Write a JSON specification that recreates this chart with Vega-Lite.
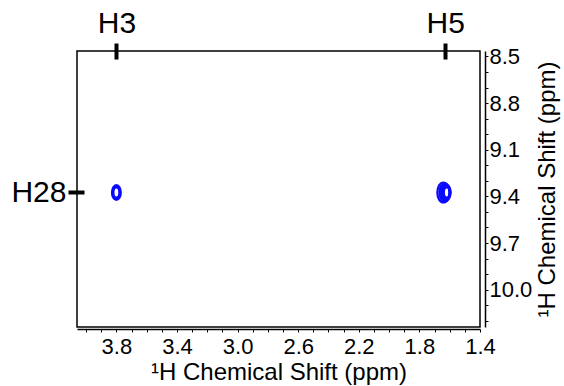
{
  "$schema": "https://vega.github.io/schema/vega-lite/v6.json",
  "autosize": {"type": "none"},
  "padding": {"left": 77, "top": 51, "right": 84, "bottom": 59},
  "width": 403,
  "height": 276,
  "config": {
    "font": "Liberation Sans",
    "view": {"stroke": "black", "strokeWidth": 1.5},
    "axis": {
      "labelFont": "Liberation Sans",
      "titleFont": "Liberation Sans",
      "labelColor": "black",
      "titleColor": "black",
      "domainColor": "black",
      "tickColor": "black",
      "grid": false,
      "titleFontWeight": "normal",
      "labelOverlap": false,
      "labelBound": false,
      "labelFlush": false
    }
  },
  "data": {
    "values": [
      {"peak": "H3", "shift_x": 3.8, "shift_y": 9.375, "level": 3.5},
      {"peak": "H3", "shift_x": 3.8, "shift_y": 9.375, "level": 4.3},
      {"peak": "H3", "shift_x": 3.8, "shift_y": 9.375, "level": 5},
      {"peak": "H5", "shift_x": 1.642, "shift_y": 9.375, "level": 1},
      {"peak": "H5", "shift_x": 1.632, "shift_y": 9.375, "level": 2},
      {"peak": "H5", "shift_x": 1.626, "shift_y": 9.375, "level": 3},
      {"peak": "H5", "shift_x": 1.622, "shift_y": 9.375, "level": 4},
      {"peak": "H5", "shift_x": 1.619, "shift_y": 9.375, "level": 5}
    ]
  },
  "layer": [
    {
      "mark": {
        "type": "point",
        "shape": "M0,-1A0.6,1,0,1,1,0,1A0.6,1,0,1,1,0,-1Z",
        "filled": false,
        "stroke": "#0a0aff",
        "strokeWidth": 2.2,
        "opacity": 1
      },
      "encoding": {
        "x": {
          "field": "shift_x",
          "type": "quantitative",
          "scale": {"domain": [1.4, 4.06], "reverse": true, "nice": false, "zero": false},
          "axis": {
            "orient": "bottom",
            "title": "¹H Chemical Shift (ppm)",
            "values": [4.0, 3.9, 3.8, 3.7, 3.6, 3.5, 3.4, 3.3, 3.2, 3.1, 3.0, 2.9, 2.8, 2.7, 2.6, 2.5, 2.4, 2.3, 2.2, 2.1, 2.0, 1.9, 1.8, 1.7, 1.6, 1.5, 1.4],
            "labelExpr": "round(datum.value*10) % 4 == 2 ? format(datum.value, '.1f') : ''",
            "tickSize": 3,
            "labelFontSize": 22,
            "titleFontSize": 24,
            "offset": 2,
            "domainWidth": 1.5,
            "labelPadding": 4,
            "titlePadding": 3
          }
        },
        "y": {
          "field": "shift_y",
          "type": "quantitative",
          "scale": {"domain": [8.465, 10.24], "reverse": true, "nice": false, "zero": false},
          "axis": {
            "orient": "right",
            "title": "¹H Chemical Shift (ppm)",
            "values": [8.5, 8.6, 8.7, 8.8, 8.9, 9.0, 9.1, 9.2, 9.3, 9.4, 9.5, 9.6, 9.7, 9.8, 9.9, 10.0, 10.1, 10.2],
            "labelExpr": "round(datum.value*10) % 3 == 1 ? format(datum.value, '.1f') : ''",
            "tickSize": 3,
            "labelFontSize": 22,
            "titleFontSize": 24,
            "titleAngle": 270,
            "titleBaseline": "top",
            "offset": 5,
            "domainWidth": 1.5,
            "labelPadding": 1,
            "titlePadding": 4
          }
        },
        "size": {
          "field": "level",
          "type": "quantitative",
          "scale": {"domain": [1, 5], "range": [400, 100]},
          "legend": null
        }
      }
    },
    {
      "mark": {"type": "point", "opacity": 0},
      "encoding": {
        "x": {
          "field": "shift_x",
          "type": "quantitative",
          "axis": {
            "orient": "top",
            "title": null,
            "values": [3.8, 1.63],
            "labelExpr": "datum.value > 3 ? 'H3' : 'H5'",
            "tickSize": 16,
            "tickWidth": 4,
            "offset": -8,
            "domain": false,
            "labelFontSize": 30,
            "labelPadding": 5
          }
        },
        "y": {
          "field": "shift_y",
          "type": "quantitative",
          "axis": {
            "orient": "left",
            "title": null,
            "values": [9.375],
            "labelExpr": "'H28'",
            "tickSize": 16,
            "tickWidth": 4,
            "offset": -7,
            "domain": false,
            "labelFontSize": 30,
            "labelPadding": 2
          }
        }
      }
    }
  ],
  "resolve": {"axis": {"x": "independent", "y": "independent"}}
}
